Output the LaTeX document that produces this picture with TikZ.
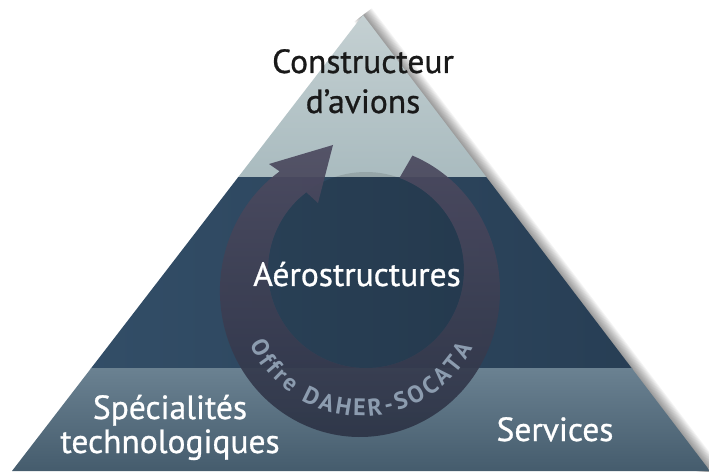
\documentclass[tikz,border=0pt]{standalone}
\usepackage{fontspec}
\setmainfont{PT Sans}
\usetikzlibrary{decorations.text,calc,positioning}
\definecolor{bandtop}{HTML}{C7D2D4}
\definecolor{bandtopdark}{HTML}{A9BBBF}
\definecolor{bandmid}{HTML}{34506A}
\definecolor{bandmiddark}{HTML}{263C52}
\definecolor{bandlow}{HTML}{6A8191}
\definecolor{bandlowdark}{HTML}{455C6D}
\definecolor{ringtop}{HTML}{4E4B61}
\definecolor{ringbot}{HTML}{2B3345}
\definecolor{offretext}{HTML}{8C9CAF}

\begin{document}
\begin{tikzpicture}[x=1pt, y=1pt,
    level/.style={align=center, font=\fontsize{33.5}{34}\selectfont\addfontfeature{FakeBold=0.8}, text=white, inner sep=0pt}]
   \useasboundingbox (0,0) rectangle (709,471);
   \coordinate (apex) at (363,456);
   \coordinate (bl) at (12,0);
   \coordinate (br) at (710,0);
   % soft shadow along the right side
   \foreach \w in {2,4,...,22}
    \draw[line width=\w pt, black, opacity=0.045] (apex) -- (br);
   % the three bands of the pyramid
   \begin{scope}
    \clip (apex) -- (bl) -- (br) -- cycle;
    \shade[top color=bandtop, bottom color=bandtopdark] (0,293) rectangle (709,471);
    \shade[left color=bandmid, right color=bandmiddark] (0,102) rectangle (709,293);
    \shade[top color=bandlow, bottom color=bandlowdark] (0,0) rectangle (709,102);
   \end{scope}
   % the ring arrow
   \fill[black, opacity=0.12] (366,201) circle (98);
   \shade[top color=ringtop, bottom color=ringbot, opacity=0.93]
    (412.4,315.4) arc[start angle=68, end angle=-235, x radius=140, y radius=146]
    -- (269,307) -- (333,326) -- (318,268)
    -- (306.3,278.7) arc[start angle=127.5, end angle=430, radius=98] -- cycle;
   \path[decorate, decoration={text along path, text align=fit to path,
      text={|\fontsize{24}{25}\selectfont\bfseries\color{offretext}|Offre DAHER-SOCATA}}]
    (362,179) ++(205:124) arc[start angle=205, end angle=333, radius=124];
   % labels
   \node[level, text=black!90, font=\fontsize{33.5}{40}\selectfont\addfontfeature{FakeBold=0.8}, anchor=base] (ctor) at (363,358) {Constructeur\\d’avions};
   \node[level, anchor=base] (aero) at (357,185) {Aérostructures};
   \node[level, anchor=base] (spec) at (170,18) {Spécialités\\technologiques};
   \node[level, anchor=base] (serv) at (555,30) {Services};
\end{tikzpicture}
\end{document}
